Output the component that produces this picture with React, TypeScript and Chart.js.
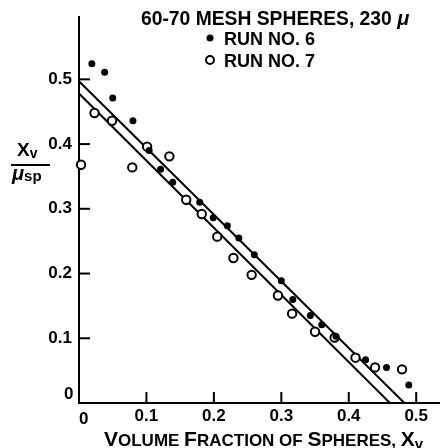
import { useEffect, useRef } from 'react';
import { Chart, registerables } from 'chart.js';

Chart.register(...registerables);

const FAM = '"Liberation Sans", Arial, sans-serif';

// Run No. 6 (filled dots)
const run6X = [0.019, 0.038, 0.050, 0.080, 0.104, 0.121, 0.139, 0.179, 0.199, 0.220, 0.237, 0.260, 0.300, 0.317, 0.343, 0.360, 0.381, 0.425, 0.456, 0.489];
const run6Y = [0.524, 0.511, 0.471, 0.436, 0.390, 0.361, 0.341, 0.310, 0.286, 0.274, 0.255, 0.229, 0.189, 0.160, 0.135, 0.121, 0.103, 0.067, 0.055, 0.028];

// Run No. 7 (open circles)
const run7X = [0.003, 0.023, 0.049, 0.079, 0.101, 0.134, 0.159, 0.182, 0.205, 0.229, 0.256, 0.295, 0.316, 0.350, 0.379, 0.410, 0.439, 0.479];
const run7Y = [0.368, 0.448, 0.436, 0.364, 0.396, 0.381, 0.314, 0.292, 0.257, 0.224, 0.198, 0.166, 0.138, 0.110, 0.101, 0.070, 0.055, 0.052];

// Fitted straight lines (endpoints on the axes)
const fit6X = [0, 0.4825];
const fit6Y = [0.497, 0];
const fit7X = [0, 0.461];
const fit7Y = [0.478, 0];

const xTicks = [0, 0.1, 0.2, 0.3, 0.4, 0.5];
const yTicks = [0, 0.1, 0.2, 0.3, 0.4, 0.5];
const xMax = 0.535;
const yMax = 0.596;

const legendTitle = '60-70 MESH SPHERES, 230 ';
const legendUnit = 'μ';
const legendLabels = ['RUN NO. 6', 'RUN NO. 7'];

const toPts = (xs: number[], ys: number[]) => xs.map((x, i) => ({ x, y: ys[i] }));

function drawParts(ctx: CanvasRenderingContext2D, parts: [string, number, number?, string?][], x: number, y: number) {
  let cx = x;
  for (const [t, size, dy, style] of parts) {
    ctx.font = `${style || ''} bold ${size}px ${FAM}`;
    ctx.fillText(t, cx, y + (dy || 0));
    cx += ctx.measureText(t).width;
  }
}

const decor = {
  id: 'decor',
  afterDraw(chart: any) {
    const ctx: CanvasRenderingContext2D = chart.ctx;
    const xs = chart.scales.x;
    const ys = chart.scales.y;
    const left = chart.chartArea.left;
    const bottom = chart.chartArea.bottom;
    ctx.save();
    ctx.strokeStyle = '#000';
    ctx.fillStyle = '#000';
    ctx.lineWidth = 2;
    // inward tick marks
    for (const v of xTicks) {
      if (v === 0) continue;
      const px = xs.getPixelForValue(v);
      ctx.beginPath();
      ctx.moveTo(px, bottom);
      ctx.lineTo(px, bottom - 11);
      ctx.stroke();
    }
    for (const v of yTicks) {
      if (v === 0) continue;
      const py = ys.getPixelForValue(v);
      ctx.beginPath();
      ctx.moveTo(left, py);
      ctx.lineTo(left + 11, py);
      ctx.stroke();
    }
    // origin labels
    ctx.textBaseline = 'alphabetic';
    ctx.textAlign = 'left';
    ctx.font = `bold 17px ${FAM}`;
    ctx.fillText('0', xs.getPixelForValue(0) + 0, bottom + 21);
    ctx.fillText('0', left - 15, ys.getPixelForValue(0) - 4);

    // x axis title (small caps)
    drawParts(ctx, [
      ['V', 21], ['OLUME ', 17], ['F', 21], ['RACTION ', 17], ['OF ', 17],
      ['S', 21], ['PHERES, ', 17], ['X', 21], ['v', 15, 3],
    ], 104, 446);

    // y axis title as fraction
    drawParts(ctx, [['X', 19], ['v', 14, 2]], 17, 156);
    ctx.beginPath();
    ctx.moveTo(11, 165);
    ctx.lineTo(50, 165);
    ctx.stroke();
    drawParts(ctx, [['μ', 20, 0, 'italic'], ['sp', 15, 1]], 12, 180);

    // legend
    drawParts(ctx, [[legendTitle, 19.3], [legendUnit, 20, 0, 'italic']], 141, 25);
    ctx.beginPath();
    ctx.arc(210, 38, 3.5, 0, Math.PI * 2);
    ctx.fill();
    drawParts(ctx, [[legendLabels[0], 18]], 224, 45);
    ctx.beginPath();
    ctx.arc(210, 60, 4, 0, Math.PI * 2);
    ctx.stroke();
    drawParts(ctx, [[legendLabels[1], 18]], 224, 67);
    ctx.restore();
  },
};

export default function App() {
  const ref = useRef<HTMLCanvasElement>(null);
  useEffect(() => {
    if (!ref.current) return;
    const tickFont = { family: FAM, size: 17, weight: 'bold' as const };
    const chart = new Chart(ref.current, {
      type: 'scatter',
      data: {
        datasets: [
          {
            type: 'line',
            label: 'Fit 6',
            data: toPts(fit6X, fit6Y),
            borderColor: '#000',
            borderWidth: 2,
            pointRadius: 0,
            fill: false,
            order: 3,
          } as any,
          {
            type: 'line',
            label: 'Fit 7',
            data: toPts(fit7X, fit7Y),
            borderColor: '#000',
            borderWidth: 2,
            pointRadius: 0,
            fill: false,
            order: 3,
          } as any,
          {
            label: 'RUN NO. 6',
            data: toPts(run6X, run6Y),
            backgroundColor: '#000',
            borderColor: '#000',
            borderWidth: 0,
            pointRadius: 3.5,
            clip: false,
            order: 1,
          } as any,
          {
            label: 'RUN NO. 7',
            data: toPts(run7X, run7Y),
            backgroundColor: '#fff',
            borderColor: '#000',
            borderWidth: 2,
            pointRadius: 4.2,
            clip: false,
            order: 2,
          } as any,
        ],
      },
      options: {
        animation: false,
        responsive: false,
        devicePixelRatio: 1,
        layout: { padding: 0 },
        plugins: { legend: { display: false }, tooltip: { enabled: false }, title: { display: false } },
        scales: {
          x: {
            type: 'linear',
            min: 0,
            max: xMax,
            afterBuildTicks: (s: any) => { s.ticks = xTicks.map((v) => ({ value: v })); },
            afterFit: (s: any) => { s.height = 45; },
            ticks: {
              callback: (v: any) => (Number(v) === 0 ? '' : Number(v).toFixed(1)),
              font: tickFont,
              color: '#000',
              padding: 3,
              maxRotation: 0,
              autoSkip: false,
            },
            grid: { drawOnChartArea: false, drawTicks: false },
            border: { color: '#000', width: 2 },
          },
          y: {
            type: 'linear',
            min: 0,
            max: yMax,
            afterBuildTicks: (s: any) => { s.ticks = yTicks.map((v) => ({ value: v })); },
            afterFit: (s: any) => { s.width = 79; },
            ticks: {
              callback: (v: any) => (Number(v) === 0 ? '' : Number(v).toFixed(1)),
              font: tickFont,
              color: '#000',
              padding: 7,
              autoSkip: false,
            },
            grid: { drawOnChartArea: false, drawTicks: false },
            border: { color: '#000', width: 2 },
          },
        },
      },
      plugins: [decor],
    });
    return () => chart.destroy();
  }, []);
  return (
    <div style={{ position: 'fixed', left: 0, top: 0, width: 446, height: 448, background: '#fff' }}>
      <canvas ref={ref} width={446} height={448} style={{ display: 'block' }} />
    </div>
  );
}
